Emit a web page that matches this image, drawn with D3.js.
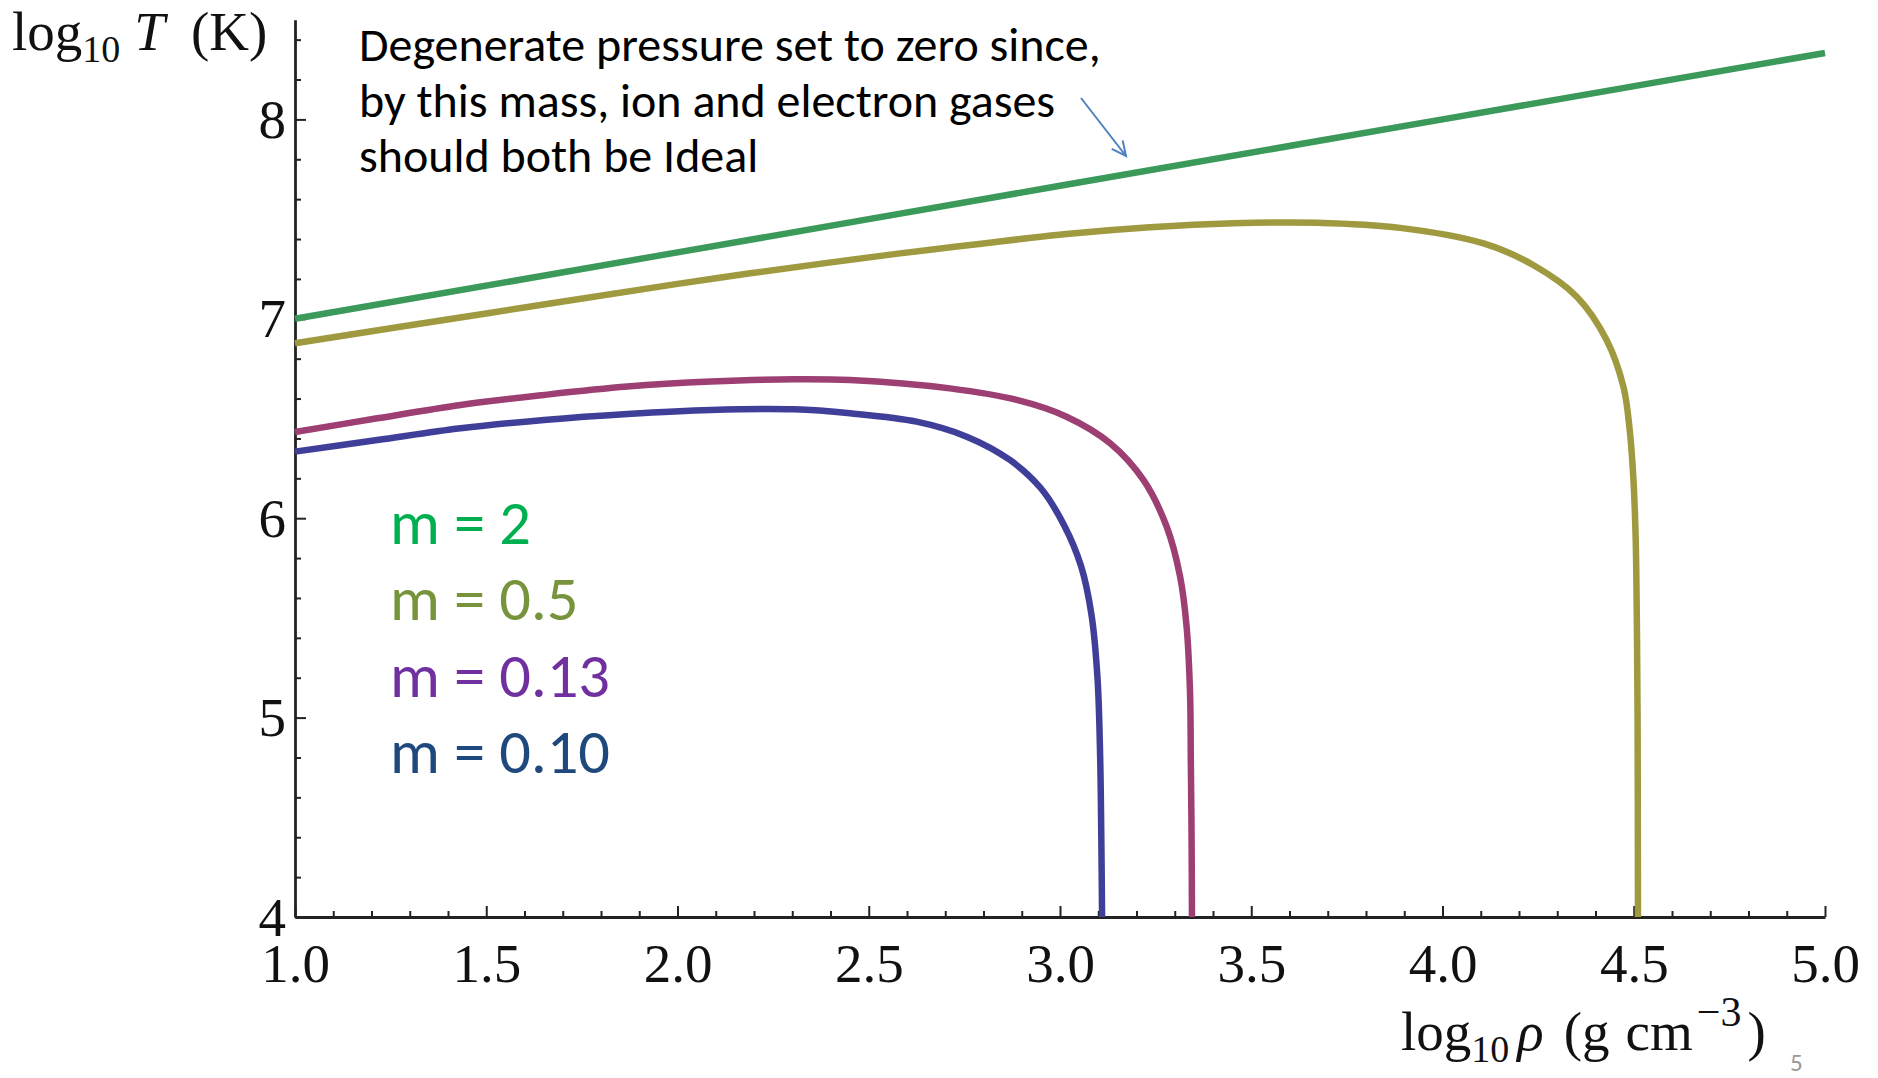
<!DOCTYPE html>
<html>
<head>
<meta charset="utf-8">
<script src="https://cdn.jsdelivr.net/npm/d3@7"></script>
<style>
  html, body { margin: 0; padding: 0; background: #fff; }
  svg { display: block; }
</style>
</head>
<body>
<svg id="chart" width="1878" height="1078"></svg>
<script>
// Temperature–density tracks, log10 T vs log10 rho, for four masses
const masses = ["2", "0.5", "0.13", "0.10"];

const trackM2 = [
  [1.0, 7.0], [2.0, 7.333], [3.0, 7.667], [4.0, 8.0], [5.0, 8.333]
];
const trackM05 = [
  [1.0, 6.877], [1.5, 7.027], [2.0, 7.175], [2.19, 7.228], [2.582, 7.328],
  [2.8, 7.378], [3.017, 7.425], [3.235, 7.459], [3.453, 7.479], [3.671, 7.482],
  [3.889, 7.456], [4.107, 7.378], [4.237, 7.27], [4.351, 7.111], [4.429, 6.894],
  [4.473, 6.659], [4.489, 6.45], [4.499, 6.2], [4.505, 5.9], [4.508, 5.5],
  [4.51, 5.0], [4.511, 4.0]
];
const trackM013 = [
  [1.0, 6.432], [1.215, 6.501], [1.433, 6.568], [1.651, 6.618], [1.869, 6.66],
  [2.087, 6.685], [2.305, 6.697], [2.451, 6.693], [2.712, 6.651], [2.887, 6.593],
  [3.017, 6.509], [3.131, 6.376], [3.218, 6.192], [3.279, 5.957], [3.314, 5.707],
  [3.331, 5.456], [3.34, 5.122], [3.342, 4.787], [3.344, 4.4], [3.345, 4.0]
];
const trackM010 = [
  [1.0, 6.334], [1.215, 6.392], [1.433, 6.451], [1.651, 6.493], [1.869, 6.523],
  [2.087, 6.543], [2.305, 6.546], [2.451, 6.526], [2.625, 6.484], [2.756, 6.409],
  [2.869, 6.292], [2.95, 6.15], [3.012, 5.96], [3.055, 5.76], [3.082, 5.52],
  [3.098, 5.2], [3.105, 4.8], [3.108, 4.4], [3.11, 4.0]
];

const xTicks = [1.0, 1.5, 2.0, 2.5, 3.0, 3.5, 4.0, 4.5, 5.0];
const yTicks = [4, 5, 6, 7, 8];

const lineColors   = ["#3b995a", "#9f993f", "#9d3f72", "#3f3f99"];
const legendColors = ["#00b050", "#77933c", "#7030a0", "#1f497d"];

const noteLines = [
  "Degenerate pressure set to zero since,",
  "by this mass, ion and electron gases",
  "should both be Ideal"
];

const svg = d3.select("#chart");
svg.append("rect").attr("width", 1878).attr("height", 1078).attr("fill", "#fff");

const x = d3.scaleLinear().domain([1, 5]).range([295, 1825]);
const y = d3.scaleLinear().domain([4, 8.5]).range([917, 917 - 4.5 * 199.4]);

const serif = "'Liberation Serif', 'DejaVu Serif', serif";
const sans = "Carlito, Calibri, Lato, 'Open Sans', sans-serif";

// minor ticks
const xMinor = d3.range(1.1, 5.0, 0.1).filter(v => Math.abs(v * 2 - Math.round(v * 2)) > 1e-6);
const yMinor = d3.range(4.2, 8.5, 0.2).filter(v => Math.abs(v - Math.round(v)) > 1e-6);

svg.append("g")
  .attr("transform", `translate(0,${y(4)})`)
  .call(d3.axisBottom(x).tickValues(xMinor).tickSize(-6).tickSizeOuter(0).tickFormat(""))
  .call(g => g.select(".domain").remove())
  .call(g => g.selectAll("line").attr("stroke", "#222").attr("stroke-width", 2));

svg.append("g")
  .attr("transform", `translate(${x(1)},0)`)
  .call(d3.axisLeft(y).tickValues(yMinor).tickSize(-6).tickSizeOuter(0).tickFormat(""))
  .call(g => g.select(".domain").remove())
  .call(g => g.selectAll("line").attr("stroke", "#222").attr("stroke-width", 2));

const xAxis = svg.append("g")
  .attr("transform", `translate(0,${y(4)})`)
  .call(d3.axisBottom(x).tickValues(xTicks).tickSize(-11).tickSizeOuter(0)
        .tickPadding(26).tickFormat(d3.format(".1f")));
xAxis.select(".domain").attr("stroke", "#222").attr("stroke-width", 2.8);
xAxis.selectAll("line").attr("stroke", "#222").attr("stroke-width", 2);
xAxis.selectAll("text").attr("font-family", serif).attr("font-size", 55).attr("fill", "#111");

const yAxis = svg.append("g")
  .attr("transform", `translate(${x(1)},0)`)
  .call(d3.axisLeft(y).tickValues(yTicks).tickSize(-11).tickSizeOuter(0)
        .tickPadding(9).tickFormat(d3.format("d")));
yAxis.select(".domain").attr("stroke", "#222").attr("stroke-width", 2.8);
yAxis.selectAll("line").attr("stroke", "#222").attr("stroke-width", 2);
yAxis.selectAll("text").attr("font-family", serif).attr("font-size", 55).attr("fill", "#111")
  .attr("dy", "0.33em");

// curves
const line = d3.line()
  .x(d => x(d[0])).y(d => y(d[1]))
  .curve(d3.curveCatmullRom.alpha(0.5));

const tracks = [trackM2, trackM05, trackM013, trackM010];
svg.append("g").selectAll("path")
  .data(tracks)
  .join("path")
  .attr("d", line)
  .attr("fill", "none")
  .attr("stroke", (d, i) => lineColors[i])
  .attr("stroke-width", 6.5)
  .attr("stroke-linecap", "butt")
  .attr("stroke-linejoin", "round");

// axis titles
const yTitle = svg.append("text")
  .attr("x", 12).attr("y", 50)
  .attr("font-family", serif).attr("font-size", 55).attr("fill", "#111");
yTitle.append("tspan").text("log");
yTitle.append("tspan").attr("font-size", 38).attr("dy", 12).text("10");
yTitle.append("tspan").attr("dy", -12).attr("dx", 14).attr("font-style", "italic").text("T");
yTitle.append("tspan").attr("dx", 26).text("(K)");

const xTitle = svg.append("text")
  .attr("x", 1401).attr("y", 1050)
  .attr("font-family", serif).attr("font-size", 55).attr("fill", "#111");
xTitle.append("tspan").text("log");
xTitle.append("tspan").attr("font-size", 38).attr("dy", 12).text("10");
xTitle.append("tspan").attr("dy", -12).attr("dx", 8).attr("font-style", "italic").text("ρ");
xTitle.append("tspan").attr("dx", 20).text("(g");
xTitle.append("tspan").attr("dx", 16).text("cm");
xTitle.append("tspan").attr("font-size", 42).attr("dy", -24).attr("dx", 4).text("−3");
xTitle.append("tspan").attr("dy", 24).attr("dx", 6).text(")");

// note text
const note = svg.append("g");
note.selectAll("text")
  .data(noteLines)
  .join("text")
  .attr("x", 359)
  .attr("y", (d, i) => 61 + i * 55.5)
  .attr("font-family", sans)
  .attr("font-size", 46)
  .attr("fill", "#000")
  .text(d => d);
// fit note width
{
  const w = note.select("text").node().getComputedTextLength();
  const fs = 46 * 742 / w;
  note.selectAll("text").attr("font-size", fs);
}

// arrow
const ax0 = 1081, ay0 = 98, ax1 = 1126, ay1 = 156;
svg.append("line").attr("x1", ax0).attr("y1", ay0).attr("x2", ax1).attr("y2", ay1)
  .attr("stroke", "#4f81bd").attr("stroke-width", 2);
{
  const ang = Math.atan2(ay1 - ay0, ax1 - ax0);
  const L = 16, a = 0.45;
  const pts = [
    [ax1 - L * Math.cos(ang - a), ay1 - L * Math.sin(ang - a)],
    [ax1, ay1],
    [ax1 - L * Math.cos(ang + a), ay1 - L * Math.sin(ang + a)]
  ];
  svg.append("path").attr("d", d3.line()(pts)).attr("fill", "none")
    .attr("stroke", "#4f81bd").attr("stroke-width", 2);
}

// legend
const legend = svg.append("g");
legend.selectAll("text")
  .data(masses)
  .join("text")
  .attr("x", 390)
  .attr("y", (d, i) => 544 + i * 76.3)
  .attr("font-family", sans)
  .attr("font-size", 62)
  .attr("fill", (d, i) => legendColors[i])
  .text(d => `m = ${d}`);
{
  const w = legend.selectAll("text").nodes()[2].getComputedTextLength();
  legend.selectAll("text").attr("font-size", 62 * 220 / w);
}

// page number
svg.append("text").attr("x", 1790).attr("y", 1071)
  .attr("font-family", sans).attr("font-size", 25).attr("fill", "#999")
  .text("5");
</script>
</body>
</html>
